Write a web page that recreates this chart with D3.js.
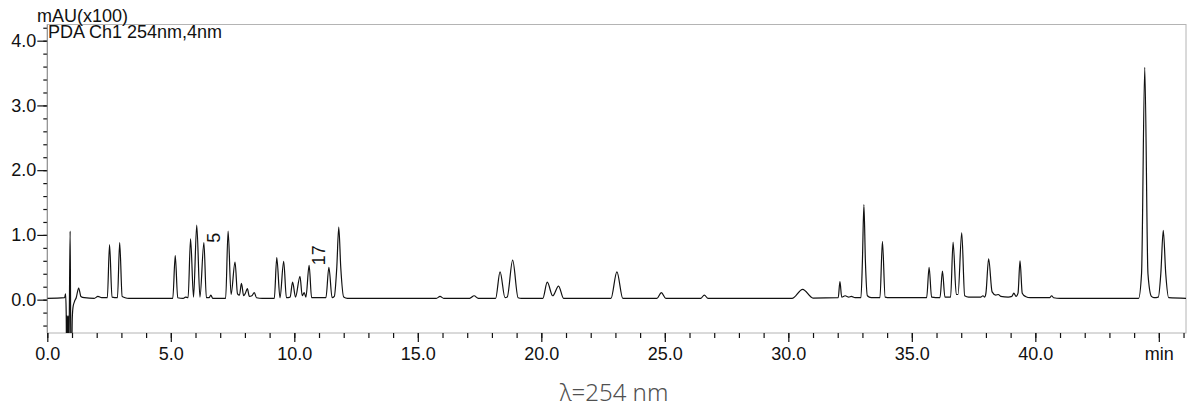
<!DOCTYPE html>
<html lang="en">

<head>
    <meta charset="UTF-8">
    <title>Chromatogram</title>
    <script src="https://cdn.jsdelivr.net/npm/d3@7"></script>
    <style>
        body { margin: 0; background: #fff; }
    </style>
</head>

<body>
    <svg></svg>
</body>
<script>
    const width = 1190;
    const height = 412;

    // trace: [retention time (min), signal (mAU x100)]
    const trace = [
        [0.00, 0.02], [0.70, 0.03], [0.74, 0.09], [0.765, -0.2], [0.78, -0.9], [0.795, -0.25],
        [0.81, -0.9], [0.825, -0.25], [0.84, -0.9], [0.855, -0.25], [0.87, -0.9], [0.89, -0.3],
        [0.925, 1.06], [0.955, -0.9], [0.99, -0.8], [1.01, -0.3], [1.04, -0.12], [1.10, -0.03],
        [1.17, 0.03], [1.27, 0.18], [1.36, 0.05], [1.50, 0.03], [1.90, 0.02], [2.05, 0.05],
        [2.20, 0.03], [2.43, 0.03], [2.52, 0.85], [2.62, 0.04], [2.84, 0.03], [2.93, 0.88],
        [3.03, 0.05], [3.15, 0.03], [3.30, 0.02], [5.08, 0.02], [5.18, 0.68], [5.28, 0.03],
        [5.50, 0.02], [5.60, 0.04], [5.70, 0.03], [5.80, 0.94], [5.92, 0.04], [6.05, 1.15],
        [6.18, 0.04], [6.34, 0.88], [6.44, 0.03], [6.55, 0.03], [6.62, 0.07], [6.70, 0.02],
        [7.22, 0.02], [7.32, 1.06], [7.44, 0.08], [7.60, 0.58], [7.70, 0.09], [7.78, 0.07],
        [7.86, 0.25], [7.95, 0.06], [8.02, 0.10], [8.10, 0.17], [8.18, 0.05], [8.28, 0.06],
        [8.38, 0.11], [8.47, 0.03], [8.70, 0.02], [9.19, 0.02], [9.29, 0.65], [9.42, 0.03],
        [9.57, 0.59], [9.68, 0.03], [9.83, 0.04], [9.93, 0.27], [10.05, 0.04], [10.23, 0.36],
        [10.32, 0.06], [10.40, 0.11], [10.47, 0.04], [10.60, 0.53], [10.70, 0.03], [11.28, 0.03],
        [11.40, 0.50], [11.53, 0.03], [11.62, 0.05], [11.72, 0.50], [11.80, 1.12], [11.88, 0.50],
        [12.00, 0.04], [12.15, 0.02], [15.75, 0.02], [15.90, 0.05], [16.05, 0.02], [17.10, 0.02],
        [17.28, 0.06], [17.45, 0.02], [18.15, 0.02], [18.33, 0.43], [18.53, 0.03], [18.62, 0.04],
        [18.84, 0.61], [19.06, 0.03], [19.20, 0.02], [20.06, 0.02], [20.24, 0.27], [20.46, 0.06],
        [20.70, 0.21], [20.90, 0.02], [22.82, 0.02], [23.06, 0.43], [23.30, 0.02], [24.68, 0.02],
        [24.86, 0.11], [25.04, 0.02], [26.45, 0.02], [26.60, 0.07], [26.75, 0.02], [30.15, 0.02],
        [30.58, 0.16], [31.00, 0.025], [32.02, 0.03], [32.09, 0.28], [32.16, 0.04], [32.30, 0.06],
        [32.45, 0.04], [32.55, 0.05], [32.70, 0.03], [32.94, 0.03], [33.00, 0.60], [33.06, 1.47],
        [33.12, 0.60], [33.20, 0.06], [33.35, 0.03], [33.71, 0.03], [33.81, 0.90], [33.92, 0.04],
        [34.10, 0.03], [35.60, 0.03], [35.70, 0.50], [35.80, 0.04], [36.14, 0.03], [36.24, 0.44],
        [36.34, 0.04], [36.57, 0.04], [36.67, 0.89], [36.80, 0.08], [36.87, 0.08], [37.02, 1.03],
        [37.14, 0.06], [37.30, 0.04], [37.80, 0.04], [37.88, 0.06], [37.95, 0.04], [38.00, 0.10],
        [38.11, 0.63], [38.25, 0.12], [38.40, 0.07], [38.50, 0.08], [38.60, 0.05], [38.90, 0.04],
        [39.05, 0.05], [39.13, 0.10], [39.22, 0.05], [39.30, 0.10], [39.38, 0.60], [39.47, 0.10],
        [39.60, 0.05], [39.80, 0.03], [40.58, 0.03], [40.66, 0.06], [40.74, 0.03], [41.00, 0.02],
        [44.18, 0.02], [44.30, 0.40], [44.43, 3.59], [44.56, 0.40], [44.70, 0.05], [44.80, 0.03],
        [44.98, 0.04], [45.08, 0.40], [45.18, 1.07], [45.28, 0.40], [45.40, 0.03], [46.20, 0.02]
    ];

    // peak annotations
    const peakLabels = [
        { time: 6.34, value: 0.88, text: '5' },
        { time: 10.60, value: 0.53, text: '17' }
    ];

    const xMajorTicks = [0, 5, 10, 15, 20, 25, 30, 35, 40, 45];
    const xTickLabels = ['0.0', '5.0', '10.0', '15.0', '20.0', '25.0', '30.0', '35.0', '40.0', 'min'];
    const yMajorTicks = [0, 1, 2, 3, 4];
    const yTickLabels = ['0.0', '1.0', '2.0', '3.0', '4.0'];

    const plot = { left: 47.3, right: 1186, top: 24.5, bottom: 333 };
    const fontSize = '18px';

    const svg = d3.select('svg')
        .attr('width', width)
        .attr('height', height)
        .style('font-family', '"Liberation Sans", Arial, sans-serif');

    const x = d3.scaleLinear().domain([0, 46.1]).range([plot.left, plot.right]);
    const y = d3.scaleLinear().domain([-0.515, 4.25]).range([plot.bottom, plot.top]);

    // frame (light grey)
    svg.append('rect')
        .attr('x', plot.left)
        .attr('y', plot.top)
        .attr('width', plot.right - plot.left)
        .attr('height', plot.bottom - plot.top)
        .attr('fill', 'none')
        .attr('stroke', '#b4b4b4')
        .attr('stroke-width', 1);

    // x axis: minor ticks every minute, major every 5
    const xAxisMinor = d3.axisBottom(x)
        .tickValues(d3.range(0, 47, 1))
        .tickSize(5)
        .tickFormat('');
    const xAxisMajor = d3.axisBottom(x)
        .tickValues(xMajorTicks)
        .tickSize(9)
        .tickPadding(5)
        .tickFormat((d, i) => xTickLabels[i]);

    [xAxisMinor, xAxisMajor].forEach(ax => {
        const g = svg.append('g')
            .attr('transform', `translate(0, ${plot.bottom})`)
            .call(ax);
        g.select('.domain').remove();
        g.selectAll('.tick line').attr('stroke', '#111').attr('stroke-width', 1.2);
        g.selectAll('.tick text')
            .attr('fill', '#111')
            .style('font-size', fontSize)
            .style('font-family', '"Liberation Sans", Arial, sans-serif');
    });

    // y axis: minor ticks every 0.2
    const yAxisMinor = d3.axisLeft(y)
        .tickValues(d3.range(-0.4, 4.21, 0.2))
        .tickSize(4)
        .tickFormat('');
    const yAxisMajor = d3.axisLeft(y)
        .tickValues(yMajorTicks)
        .tickSize(10)
        .tickPadding(1)
        .tickFormat((d, i) => yTickLabels[i]);

    [yAxisMinor, yAxisMajor].forEach(ax => {
        const g = svg.append('g')
            .attr('transform', `translate(${plot.left}, 0)`)
            .call(ax);
        g.select('.domain').remove();
        g.selectAll('.tick line').attr('stroke', '#111').attr('stroke-width', 1.2);
        g.selectAll('.tick text')
            .attr('fill', '#111')
            .style('font-size', fontSize)
            .style('font-family', '"Liberation Sans", Arial, sans-serif');
    });

    // left axis line
    svg.append('line')
        .attr('x1', plot.left).attr('x2', plot.left)
        .attr('y1', plot.top).attr('y2', plot.bottom)
        .attr('stroke', '#8c8c8c');

    // clip for the trace
    svg.append('clipPath')
        .attr('id', 'plot-clip')
        .append('rect')
        .attr('x', plot.left)
        .attr('y', plot.top)
        .attr('width', plot.right - plot.left)
        .attr('height', plot.bottom - plot.top);

    const line = d3.line()
        .x(d => x(d[0]))
        .y(d => y(d[1]))
        .curve(d3.curveMonotoneX);

    svg.append('path')
        .datum(trace)
        .attr('clip-path', 'url(#plot-clip)')
        .attr('d', line)
        .attr('fill', 'none')
        .attr('stroke', '#111')
        .attr('stroke-width', 1.2)
        .attr('stroke-linejoin', 'round');

    // peak numbers, written vertically next to the apex
    svg.selectAll('.peak-label')
        .data(peakLabels)
        .join('text')
        .attr('class', 'peak-label')
        .attr('transform', d => `translate(${x(d.time) + 16}, ${y(d.value)}) rotate(-90)`)
        .attr('text-anchor', 'start')
        .attr('fill', '#111')
        .style('font-size', fontSize)
        .text(d => d.text);

    // titles
    svg.append('text')
        .attr('x', 37)
        .attr('y', 22)
        .attr('fill', '#111')
        .style('font-size', fontSize)
        .text('mAU(x100)');

    svg.append('text')
        .attr('x', 48)
        .attr('y', 37.5)
        .attr('fill', '#111')
        .style('font-size', fontSize)
        .text('PDA Ch1 254nm,4nm');

    svg.append('text')
        .attr('x', 614)
        .attr('y', 401)
        .attr('text-anchor', 'middle')
        .attr('fill', '#505050')
        .style('font-family', '"Noto Sans", sans-serif')
        .style('font-weight', 300)
        .style('font-size', '24px')
        .text('λ=254 nm');
</script>

</html>
